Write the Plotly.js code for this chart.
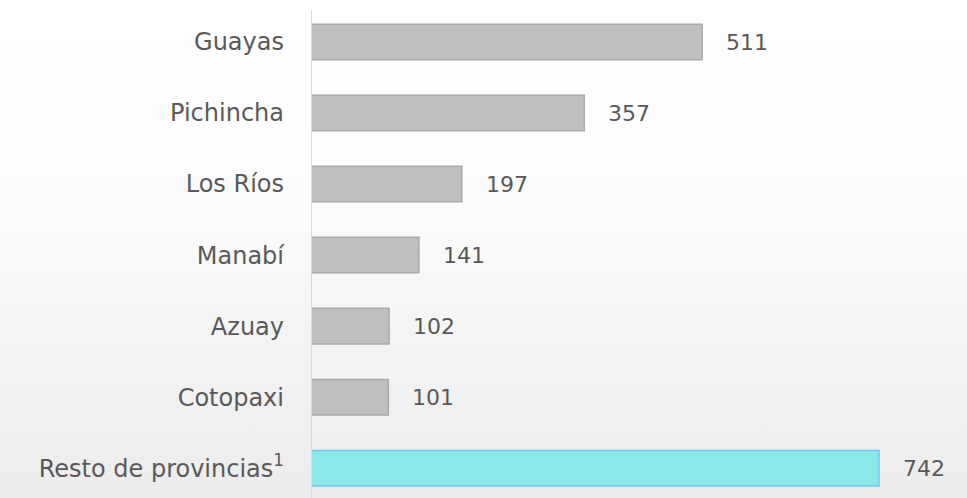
<!DOCTYPE html>
<html>
<head>
<meta charset="utf-8">
<script src="https://cdn.plot.ly/plotly-3.0.1.min.js"></script>
<style>
  html, body { margin: 0; padding: 0; }
  body {
    width: 967px; height: 498px; overflow: hidden;
    /* soft slide-like backdrop: white on top, light grey near the bottom */
    background: linear-gradient(to bottom, #ffffff 0%, #fcfcfc 40%, #f3f3f3 72%, #ececec 100%);
  }
  #chart { width: 967px; height: 498px; }
</style>
</head>
<body>
<div id="chart"></div>
<script>
// Provinces, top to bottom
const provinces = ['Guayas', 'Pichincha', 'Los Ríos', 'Manabí', 'Azuay', 'Cotopaxi', 'Resto de provincias<sup>1</sup>'];
const counts = [511, 357, 197, 141, 102, 101, 742];
const fillColors = ['#bfbfbf', '#bfbfbf', '#bfbfbf', '#bfbfbf', '#bfbfbf', '#bfbfbf', '#8ae8eb'];
const edgeColors = ['#a9a9a9', '#a9a9a9', '#a9a9a9', '#a9a9a9', '#a9a9a9', '#a9a9a9', '#74c6ea'];

const FONT = 'Century Gothic, "URW Gothic", "DejaVu Sans", sans-serif';
const TEXT_COLOR = '#595959';

const trace = {
  type: 'bar',
  orientation: 'h',
  x: counts,
  y: provinces,
  marker: { color: fillColors, line: { color: edgeColors, width: 1.5 } },
  width: 0.5,
  hoverinfo: 'x+y'
};

// value labels sit a bit past the bar ends
const valueLabels = counts.map((v, i) => ({
  x: v, y: provinces[i], xref: 'x', yref: 'y',
  text: String(v), showarrow: false, xanchor: 'left', xshift: 22,
  font: { family: FONT, size: 22, color: TEXT_COLOR }
}));

const layout = {
  width: 967,
  height: 498,
  margin: { l: 311, r: 0, t: 0, b: 0 },
  paper_bgcolor: 'rgba(0,0,0,0)',
  plot_bgcolor: 'rgba(0,0,0,0)',
  showlegend: false,
  font: { family: FONT, color: TEXT_COLOR },
  xaxis: {
    range: [0, 857],
    visible: false,
    fixedrange: true
  },
  yaxis: {
    type: 'category',
    range: [6.42, -0.592],
    showgrid: false,
    zeroline: false,
    showline: false,
    ticks: '',
    ticklabelstandoff: 26,
    tickfont: { family: FONT, size: 24, color: TEXT_COLOR },
    fixedrange: true
  },
  shapes: [{
    type: 'line', xref: 'x', yref: 'paper',
    x0: 0, x1: 0, y0: 0, y1: 0.98,
    line: { color: '#d9d9d9', width: 2 }
  }],
  annotations: valueLabels
};

Plotly.newPlot('chart', [trace], layout, { displayModeBar: false, staticPlot: true });
</script>
</body>
</html>
